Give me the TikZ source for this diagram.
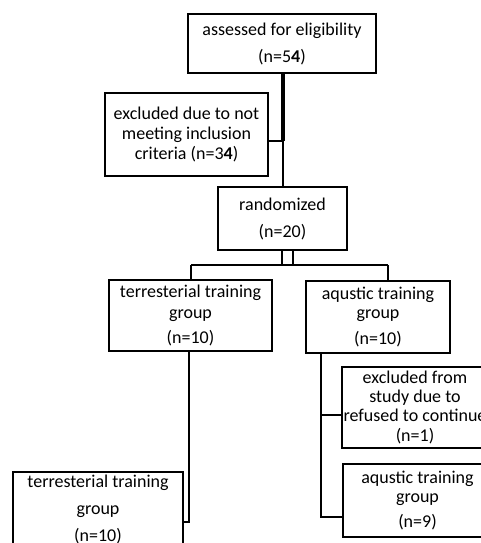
\documentclass[tikz,border=0pt]{standalone}
\usepackage{fontspec}
\setmainfont{Carlito}
\begin{document}
\begin{tikzpicture}[x=1pt,y=-1pt,
  box/.style={draw=black,line width=1.6pt,fill=white,align=center,inner sep=0pt,
    font=\fontsize{18}{20}\selectfont},
  conn/.style={draw=black,line width=1.3pt},
  thickconn/.style={draw=black,line width=4pt}]
\useasboundingbox (0,0) rectangle (481,543);
\clip (0,0) rectangle (481,543);
\fill[white] (0,0) rectangle (481,543);
% boxes
\node[box,minimum width=188pt,minimum height=59pt] (top) at (282,43.5)
  {assessed for eligibility\\[7pt](n=5\textbf{4})};
\node[box,minimum width=163pt,minimum height=83pt] (excla) at (186.5,134.5)
  {excluded due to not\\meeting inclusion\\criteria (n=3\textbf{4})};
\node[box,minimum width=129pt,minimum height=63pt] (rand) at (282.5,218.5)
  {randomized\\[7pt](n=20)};
\node[box,minimum width=163pt,minimum height=71pt] (terr) at (190.5,315.5)
  {terresterial training\\[1pt]group\\[5pt](n=10)};
\node[box,minimum width=144pt,minimum height=72pt] (aqu) at (378,317)
  {aqustic training\\[-1pt]group\\[6pt](n=10)};
\node[box,minimum width=146pt,minimum height=81pt] (exclb) at (415,407.5)
  {excluded from\\[-1pt]study due to\\[-1pt]refused to continue\\[0pt](n=1)};
\node[box,minimum width=149pt,minimum height=73pt] (aqub) at (417.5,500.5)
  {aqustic training\\[-1pt]group\\[5pt](n=9)};
\node[box,minimum width=170pt,minimum height=74pt] (terrb) at (98,509)
  {terresterial training\\[7pt]group\\[7pt](n=10)};
% junctions
\coordinate (j1) at (283,141);
\coordinate (ra) at (282,265);
\coordinate (rb) at (293,265);
\coordinate (hl) at (191,265);
\coordinate (hr) at (388,265);
\coordinate (tl) at (189,522);
\coordinate (al) at (321,517);
\coordinate (am) at (321,415);
% connectors
\draw[thickconn] (top.south -| j1) -- (j1);
\draw[conn] (excla.east |- j1) -- (j1) -- (rand.north -| j1);
\draw[conn] (rand.south -| ra) -- (ra);
\draw[conn] (rand.south -| rb) -- (rb);
\draw[conn] (hl) -- (hr);
\draw[conn] (hl) -- (terr.north -| hl);
\draw[conn] (hr) -- (aqu.north -| hr);
\draw[conn] (terr.south -| tl) -- (tl) -- (terrb.east |- tl);
\draw[conn] (aqu.south -| al) -- (al) -- (aqub.west |- al);
\draw[conn] (am) -- (exclb.west |- am);
\end{tikzpicture}
\end{document}
